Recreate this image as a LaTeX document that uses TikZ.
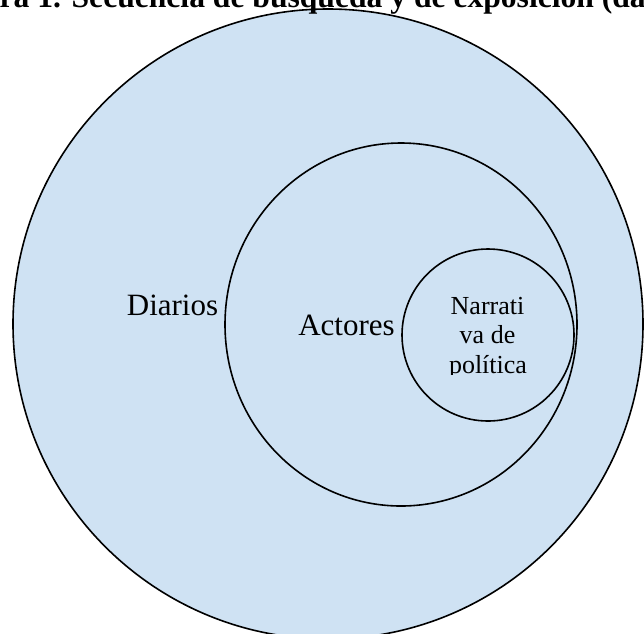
\documentclass[tikz,border=0pt]{standalone}
\usepackage{fontspec}
\setmainfont{Liberation Serif}
\usetikzlibrary{shapes.geometric}
\definecolor{fillblue}{RGB}{207,226,243}
\begin{document}
\begin{tikzpicture}[x=1pt,y=-1pt,
  ring/.style={draw=black,line width=1.6pt,ellipse,inner sep=0pt},
  lbl/.style={anchor=base,inner sep=0pt,font=\fontsize{31}{31}\selectfont},
  nlbl/.style={anchor=base,inner sep=0pt,font=\fontsize{26}{26}\selectfont}]
\useasboundingbox (0,0) rectangle (644,633);
\clip (0,0) rectangle (644,633);
\node[ring,fill=fillblue,minimum width=630pt,minimum height=630pt] (diarios) at (328,324) {};
\node[ring,minimum width=352pt,minimum height=363pt] (actores) at (401,324.5) {};
\node[ring,minimum width=172pt,minimum height=172pt] (narrativa) at (488,335) {};
\node[anchor=base west,inner sep=0pt,font=\bfseries\fontsize{31.6}{31.6}\selectfont] (titulo) at (-0.5,7.5) {ra 1. Secuencia de búsqueda y de exposición (da};
\node[lbl] (tdiarios) at (172.5,315) {Diarios};
\node[lbl] (tactores) at (346.5,335) {Actores};
\node[nlbl] (n1) at (487.5,314) {Narrati};
\node[nlbl] (n2) at (487.5,343.5) {va de};
\begin{scope}
\clip (400,350) rectangle (580,374);
\node[nlbl] (n3) at (488,373) {política};
\end{scope}
\end{tikzpicture}
\end{document}
